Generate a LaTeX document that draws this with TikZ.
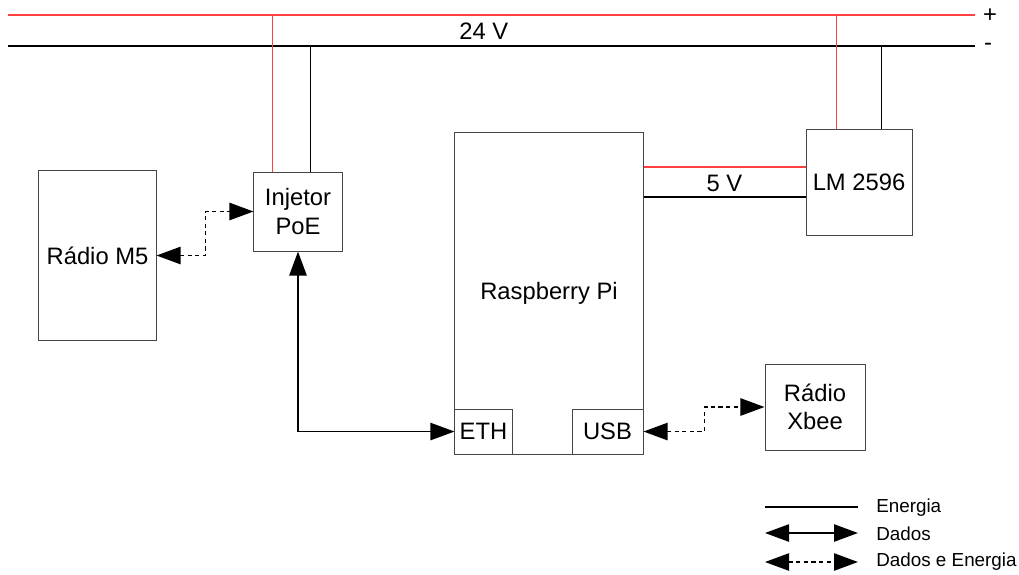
\documentclass[tikz,border=0pt]{standalone}
\usepackage{fontspec}
\setmainfont{Liberation Sans}
\usetikzlibrary{arrows.meta,positioning}
\definecolor{pwrred}{RGB}{255,64,64}
\definecolor{boxgray}{RGB}{70,70,70}

\begin{document}
\begin{tikzpicture}[
  x=0.025cm,y=-0.025cm,
  every node/.style={font=\fontsize{16.9}{20}\selectfont},
  block/.style={draw=boxgray,line width=0.7pt,align=center,inner sep=0pt},
  plusline/.style={pwrred,line width=1.2pt},
  minusline/.style={black,line width=1.2pt},
  tip/.tip={Triangle[length=0.6cm,width=0.43cm]},
  dados/.style={black,line width=1.3pt,{tip}-{tip}},
  dadosenergia/.style={dados,dash pattern=on 3pt off 2.4pt},
  legtxt/.style={anchor=west,inner sep=0pt,font=\fontsize{13.4}{16}\selectfont}
]
  \useasboundingbox (0,0) rectangle (1019,574);

  \node[block,minimum width=2.925cm,minimum height=4.225cm] (radiom5) at (97.5,255.5) {R\'adio M5};
  \node[block,minimum width=2.2cm,minimum height=1.975cm] (injetor) at (298,211.5) {Injetor\\PoE};
  \node[block,minimum width=4.7cm,minimum height=8.025cm] (rpi) at (549,293.5) {Raspberry Pi};
  \node[block,minimum width=1.425cm,minimum height=1.125cm,anchor=south west] (eth) at (rpi.south west) {ETH};
  \node[block,minimum width=1.775cm,minimum height=1.125cm,anchor=south east] (usb) at (rpi.south east) {USB};
  \node[block,minimum width=2.65cm,minimum height=2.65cm] (lm) at (859,182) {LM 2596};
  \node[block,minimum width=2.5cm,minimum height=2.15cm] (xbee) at (815,407) {R\'adio\\Xbee};

  \coordinate (busPl) at (8,15);
  \coordinate (busPr) at (975,15);
  \coordinate (busNl) at (8,46);
  \coordinate (busNr) at (975,46);
  \node[inner sep=0pt] (plus) at (990,16) {+};
  \node[inner sep=0pt] (minus) at (988,47) {-};
  \draw[plusline] (busPl) -- (busPr);
  \draw[minusline] (busNl) -- node[above=1pt,pos=0.492]{24 V} (busNr);

  \coordinate (inj+) at ([xshift=0.475cm]injetor.north west);
  \coordinate (inj-) at ([xshift=1.425cm]injetor.north west);
  \coordinate (lm+) at ([xshift=0.775cm]lm.north west);
  \coordinate (lm-) at ([xshift=1.9cm]lm.north west);
  \draw[plusline] (inj+) -- (inj+ |- busPl);
  \draw[minusline] (inj-) -- (inj- |- busNl);
  \draw[plusline] (lm+) -- (lm+ |- busPl);
  \draw[minusline] (lm-) -- (lm- |- busNl);

  \coordinate (out+) at ([yshift=0.375cm]lm.west);
  \coordinate (out-) at ([yshift=-0.375cm]lm.west);
  \draw[plusline] (out+) -- (out+ -| rpi.east);
  \draw[minusline] (out-) -- node[above=0pt]{5 V} (out- -| rpi.east);

  \draw[dadosenergia] (radiom5.east) -- ++(49,0) |- (injetor.west);
  \draw[dados] (injetor.south) |- (eth.west);
  \draw[dadosenergia] (usb.east) -- ++(61,0) |- (xbee.west);

  \node[legtxt] (txtenergia) at (876,508) {Energia};
  \node[legtxt] (txtdados) at (876,534) {Dados};
  \node[legtxt] (txtde) at (876,562) {Dados e Energia};
  \coordinate (legEa) at (765,507);
  \coordinate (legEb) at (858,507);
  \coordinate (legDa) at (765,533);
  \coordinate (legDb) at (858,533);
  \coordinate (legDEa) at (765,562);
  \coordinate (legDEb) at (858,562);
  \draw[minusline] (legEa) -- (legEb);
  \draw[dados] (legDa) -- (legDb);
  \draw[dadosenergia] (legDEa) -- (legDEb);
\end{tikzpicture}
\end{document}
